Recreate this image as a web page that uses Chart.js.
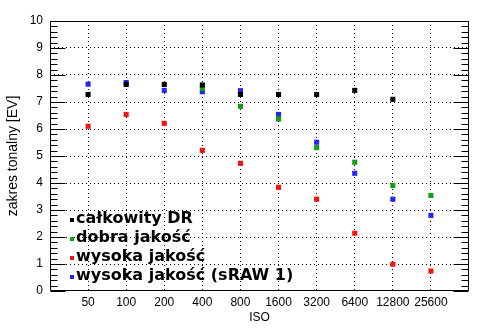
<!DOCTYPE html>
<html>
<head>
<meta charset="utf-8">
<script src="https://cdn.jsdelivr.net/npm/chart.js@4.4.0/dist/chart.umd.min.js"></script>
<style>
  html, body { margin: 0; padding: 0; background: #fff; }
  canvas { display: block; }
</style>
</head>
<body>
<canvas id="drChart" width="494" height="331"></canvas>
<script>
// ISO steps along the bottom axis
const isoLabels = ['50', '100', '200', '400', '800', '1600', '3200', '6400', '12800', '25600'];

const seriesNames = ['całkowity DR', 'dobra jakość', 'wysoka jakość', 'wysoka jakość (sRAW 1)'];
const seriesColors = ['#000000', '#12a012', '#f01414', '#2626f0'];

// tonal range in EV for each ISO step (null = no measurement)
const totalDR     = [7.28, 7.65, 7.65, 7.63, 7.28, 7.28, 7.28, 7.43, 7.10, null];
const goodQuality = [null, null, null, 7.50, 6.84, 6.37, 5.31, 4.77, 3.91, 3.54];
const highQuality = [6.10, 6.54, 6.21, 5.21, 4.73, 3.84, 3.40, 2.14, 0.99, 0.74];
const highSraw    = [7.66, 7.72, 7.43, 7.38, 7.42, 6.54, 5.51, 4.36, 3.40, 2.80];

const yTicks = [0, 1, 2, 3, 4, 5, 6, 7, 8, 9, 10];

const seriesValues = [totalDR, goodQuality, highQuality, highSraw];

function toPoints(values) {
    return values
        .map((v, i) => ({ x: i + 1, y: v }))
        .filter((p) => p.y !== null);
}

const datasets = seriesValues.map((values, i) => ({
    label: seriesNames[i],
    data: toPoints(values),
    backgroundColor: seriesColors[i],
    borderColor: seriesColors[i],
    borderWidth: 0,
    pointStyle: 'rect',
    pointRadius: 3.6,
    pointHoverRadius: 3.6,
}));

// closed frame with inward minor/major ticks on both vertical sides
const frameTicks = {
    id: 'frameTicks',
    afterDraw(chart) {
        const { ctx, chartArea: a, scales } = chart;
        const y = scales.y;
        const L = Math.round(a.left) + 0.5;
        const R = Math.round(a.right) - 0.5;
        const T = Math.round(a.top) + 0.5;
        const B = Math.round(a.bottom) - 0.5;
        ctx.save();
        ctx.strokeStyle = '#000';
        ctx.lineWidth = 1;
        ctx.beginPath();
        ctx.rect(L, T, R - L, B - T);
        for (let k = 0; k <= 50; k++) {
            const py = Math.round(y.getPixelForValue(k / 5)) + 0.5;
            const len = k % 5 === 0 ? 15 : 7;
            ctx.moveTo(L, py);
            ctx.lineTo(L + len, py);
            ctx.moveTo(R, py);
            ctx.lineTo(R - len, py);
        }
        ctx.stroke();
        ctx.restore();
    },
};

// legend sitting inside the plot, lower left
const inlineLegend = {
    id: 'inlineLegend',
    afterDatasetsDraw(chart) {
        const { ctx, chartArea } = chart;
        const x = chartArea.left + 20;
        ctx.save();
        ctx.font = 'bold 16px "DejaVu Sans"';
        ctx.textBaseline = 'middle';
        chart.data.datasets.forEach((ds, i) => {
            const y = chartArea.bottom - 72 + i * 19;
            ctx.fillStyle = ds.backgroundColor;
            ctx.fillRect(x, y - 1, 4, 4);
            ctx.fillStyle = '#000';
            ctx.fillText(ds.label, x + 6, y);
        });
        ctx.restore();
    },
};

function hideEdges(ctx) {
    const v = ctx.tick.value;
    return v <= ctx.scale.min || v >= ctx.scale.max ? 'rgba(0,0,0,0)' : '#000';
}

Chart.defaults.font.family = '"Liberation Sans", Arial, sans-serif';
Chart.defaults.font.size = 12;
Chart.defaults.color = '#000';

new Chart(document.getElementById('drChart'), {
    type: 'scatter',
    data: { datasets: datasets },
    options: {
        responsive: false,
        animation: false,
        events: [],
        layout: { padding: { top: 21, right: 25, left: 0, bottom: 0 } },
        plugins: {
            legend: { display: false },
            tooltip: { enabled: false },
        },
        scales: {
            x: {
                type: 'linear',
                min: 0,
                max: isoLabels.length + 1,
                afterBuildTicks: (scale) => {
                    scale.ticks = isoLabels.map((_, i) => ({ value: i + 1 }));
                },
                afterFit: (scale) => { scale.height = 40; },
                ticks: {
                    autoSkip: false,
                    maxRotation: 0,
                    padding: 4,
                    callback: (v) => isoLabels[v - 1] || '',
                },
                grid: { color: hideEdges, drawTicks: false },
                border: { display: false, dash: [1, 3] },
                title: { display: true, text: 'ISO', padding: { top: 6, bottom: 6 } },
            },
            y: {
                min: 0,
                max: 10,
                afterBuildTicks: (scale) => {
                    scale.ticks = yTicks.map((v) => ({ value: v }));
                },
                afterFit: (scale) => { scale.width = 50; },
                ticks: { padding: 7 },
                grid: { color: hideEdges, drawTicks: false },
                border: { display: false, dash: [1, 3] },
                title: {
                    display: true,
                    text: 'zakres tonalny [EV]',
                    font: { size: 14 },
                    padding: { top: 5, bottom: 5 },
                },
            },
        },
    },
    plugins: [frameTicks, inlineLegend],
});
</script>
</body>
</html>
